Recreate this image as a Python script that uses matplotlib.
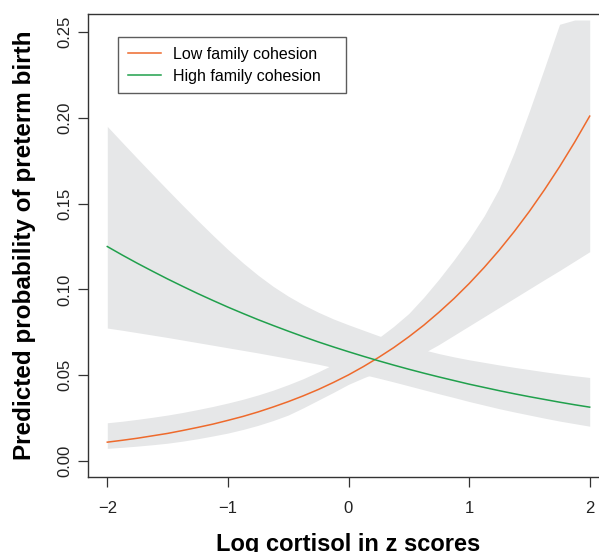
import numpy as np
import matplotlib
matplotlib.use("Agg")
import matplotlib.pyplot as plt

plt.rcParams['font.family'] = ['Liberation Sans', 'DejaVu Sans']

# valeurs (pas de 0.125 en z score)
cortisol_z = [-2.0, -1.875, -1.75, -1.625, -1.5, -1.375, -1.25, -1.125, -1.0,
              -0.875, -0.75, -0.625, -0.5, -0.375, -0.25, -0.125, 0.0,
              0.125, 0.25, 0.375, 0.5, 0.625, 0.75, 0.875, 1.0,
              1.125, 1.25, 1.375, 1.5, 1.625, 1.75, 1.875, 2.0]

# cohesion faible (orange)
low_fit = [0.0110, 0.0121, 0.0133, 0.0147, 0.0161, 0.0178, 0.0196, 0.0215, 0.0237,
           0.0260, 0.0286, 0.0315, 0.0346, 0.0380, 0.0417, 0.0458, 0.0502,
           0.0551, 0.0604, 0.0661, 0.0724, 0.0792, 0.0867, 0.0947, 0.1034,
           0.1128, 0.1229, 0.1338, 0.1455, 0.1581, 0.1715, 0.1858, 0.2010]
low_lower = [0.0074, 0.0080, 0.0087, 0.0095, 0.0104, 0.0116, 0.0130, 0.0146, 0.0163,
             0.0184, 0.0208, 0.0236, 0.0268, 0.0310, 0.0355, 0.0400, 0.0447,
             0.0485, 0.0520, 0.0555, 0.0590, 0.0630, 0.0679, 0.0733, 0.0787,
             0.0841, 0.0895, 0.0949, 0.1003, 0.1057, 0.1110, 0.1165, 0.1220]
low_upper = [0.0223, 0.0232, 0.0243, 0.0255, 0.0268, 0.0283, 0.0300, 0.0318, 0.0338,
             0.0360, 0.0385, 0.0413, 0.0445, 0.0480, 0.0520, 0.0563, 0.0610,
             0.0662, 0.0718, 0.0785, 0.0860, 0.0955, 0.1060, 0.1173, 0.1294,
             0.1429, 0.1589, 0.1800, 0.2040, 0.2290, 0.2545, 0.2570, 0.2570]

# cohesion forte (vert)
high_fit = [0.1250, 0.1200, 0.1152, 0.1106, 0.1061, 0.1018, 0.0976, 0.0936, 0.0897,
            0.0860, 0.0824, 0.0790, 0.0757, 0.0725, 0.0694, 0.0665, 0.0637,
            0.0610, 0.0584, 0.0559, 0.0535, 0.0512, 0.0490, 0.0469, 0.0448,
            0.0429, 0.0410, 0.0392, 0.0375, 0.0359, 0.0343, 0.0328, 0.0314]
high_lower = [0.0775, 0.0762, 0.0748, 0.0734, 0.0720, 0.0705, 0.0690, 0.0675, 0.0660,
              0.0645, 0.0630, 0.0614, 0.0598, 0.0581, 0.0564, 0.0545, 0.0525,
              0.0504, 0.0483, 0.0461, 0.0438, 0.0415, 0.0392, 0.0370, 0.0347,
              0.0326, 0.0305, 0.0286, 0.0268, 0.0250, 0.0233, 0.0218, 0.0203]
high_upper = [0.1950, 0.1856, 0.1763, 0.1671, 0.1580, 0.1490, 0.1402, 0.1316, 0.1233,
              0.1155, 0.1083, 0.1018, 0.0961, 0.0911, 0.0867, 0.0828, 0.0794,
              0.0762, 0.0730, 0.0700, 0.0673, 0.0648, 0.0626, 0.0607, 0.0590,
              0.0575, 0.0560, 0.0546, 0.0533, 0.0520, 0.0508, 0.0497, 0.0487]

x_ticks = [-2, -1, 0, 1, 2]
y_ticks = [0.00, 0.05, 0.10, 0.15, 0.20, 0.25]
y_tick_labels = ["0.00", "0.05", "0.10", "0.15", "0.20", "0.25"]

orange = "#EE6A2C"
green = "#20A04C"
band = "#E6E7E8"
dark = "#333333"

fig = plt.figure(figsize=(5.99, 5.52), dpi=100)
# la boite depasse a droite, comme sur l'original
ax = fig.add_axes([88 / 599, 1 - 477 / 552, 521 / 599, 463 / 552])

ax.fill_between(cortisol_z, low_lower, low_upper, color=band, lw=0)
ax.fill_between(cortisol_z, high_lower, high_upper, color=band, lw=0)
ax.plot(cortisol_z, low_fit, color=orange, lw=1.1, label="Low family cohesion")
ax.plot(cortisol_z, high_fit, color=green, lw=1.1, label="High family cohesion")

ax.set_xlim(-2.16, 2.16)
ax.set_ylim(-0.0093, 0.2605)

ax.set_xticks(x_ticks)
ax.set_yticks(y_ticks)
ax.set_yticklabels(y_tick_labels, rotation=90, va="center")
ax.tick_params(axis="both", direction="out", length=7, width=0.9, color=dark,
               labelsize=12, labelcolor="#222222")
ax.tick_params(axis="x", pad=10.5)
ax.tick_params(axis="y", pad=4.5)
for s in ax.spines.values():
    s.set_color(dark)
    s.set_linewidth(1.0)

ax.set_xlabel("Log cortisol in z scores", fontsize=17, fontweight="bold", va="baseline")
ax.xaxis.set_label_coords(0.5, -74 / 463)
ax.set_ylabel("Predicted probability of preterm birth", fontsize=17.5,
              fontweight="bold", va="baseline")
ax.yaxis.set_label_coords(-57 / 521, 0.5)

leg = ax.legend(loc="upper left", bbox_to_anchor=(30 / 521, 1 - 23 / 463, 228 / 521, 0),
                mode="expand", fontsize=11.5, frameon=True, fancybox=False,
                handlelength=2.1, handletextpad=0.75, borderpad=0.6, labelspacing=0.45,
                borderaxespad=0)
leg.get_frame().set_edgecolor(dark)
leg.get_frame().set_linewidth(1.0)

fig.savefig("out.png", dpi=100)
